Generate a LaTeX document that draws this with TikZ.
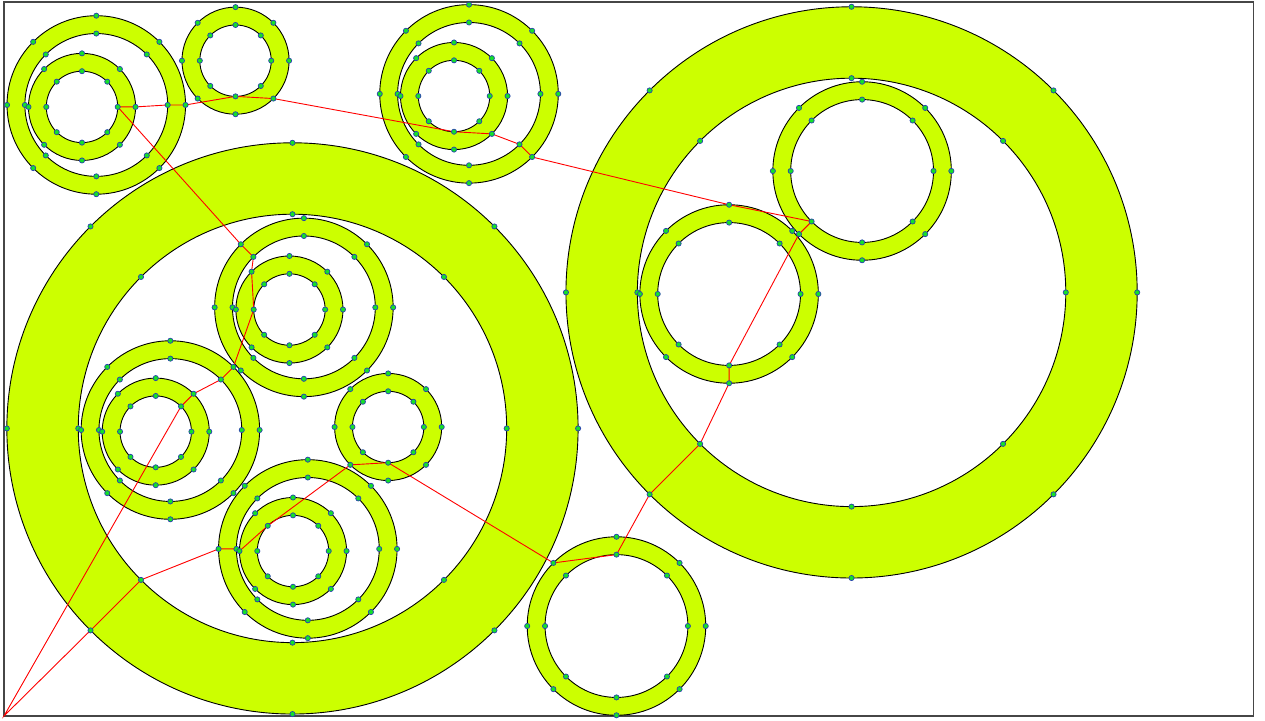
\documentclass[tikz,border=0pt]{standalone}
\usepackage{xcolor}
\usepackage{tikz}

\definecolor{ringlime}{RGB}{204,255,0}
\definecolor{dotgreen}{RGB}{20,225,40}
\definecolor{dotblue}{RGB}{40,65,175}
\definecolor{framegray}{RGB}{70,70,70}

\tikzset{
    ring/.style={draw=black, line width=0.9pt, fill=ringlime, even odd rule},
    tour/.style={draw=red, line width=0.9pt},
    sitedot/.style={fill=dotgreen, draw=dotblue, line width=0.7pt},
    frame/.style={draw=framegray, line width=1.3pt}
}

\begin{document}
\begin{tikzpicture}[x=17.85pt, y=17.85pt]
    \useasboundingbox (-0.224,-0.224) rectangle (70.64,40.11);
    % Khung
    \draw[frame] (0,0) rectangle (70,40);
    \coordinate (corner) at (0,0);

    % Các vành khuyên và các điểm trên mỗi đường tròn
    \foreach \n/\x/\y/\ro/\ri in {
        bigL/16.16/16.11/16/12, bigR/47.48/23.73/16/12,
        nwB/5.17/34.23/5/4, nwC/4.37/34.12/3/2,
        topC/12.97/36.71/3/2,
        midB/26.05/34.85/5/4, midC/25.21/34.73/3/2,
        upB/16.80/22.89/5/4, upC/15.99/22.77/3/2,
        lfB/9.32/16.02/5/4, lfC/8.50/15.93/3/2,
        rtC/21.52/16.19/3/2,
        dnB/17.02/9.36/5/4, dnC/16.19/9.24/3/2,
        hiB/48.07/30.53/5/4, loB/40.62/23.64/5/4,
        botB/34.31/5.04/5/4}
    {
        \draw[ring] (\x,\y) circle (\ro) (\x,\y) circle (\ri);
        \foreach \k in {0,...,7} {
            \path (\x,\y) ++(\k*45:\ro) coordinate (\n-o-\k);
            \path (\x,\y) ++(\k*45:\ri) coordinate (\n-i-\k);
        }
    }

    % Đường đi màu đỏ
    \draw[tour] (corner) -- (lfC-i-1) -- (lfC-o-1) -- (lfB-i-1) -- (lfB-o-1)
        -- (upC-i-4) -- (upC-o-3) -- (upB-i-3) -- (upB-o-3)
        -- (nwC-i-0) -- (nwC-o-0) -- (nwB-i-0) -- (nwB-o-0)
        -- (topC-i-6) -- (topC-o-7)
        -- (midC-i-6) -- (midC-o-7) -- (midB-i-7) -- (midB-o-7)
        -- (loB-o-2) -- (hiB-i-5) -- (hiB-o-5) -- (loB-i-6) -- (loB-o-6)
        -- (bigR-i-5) -- (bigR-o-5) -- (botB-i-2) -- (botB-o-3)
        -- (rtC-i-6) -- (rtC-o-5) -- (dnC-i-3) -- (dnC-o-4) -- (dnB-i-4) -- (dnB-o-4)
        -- (bigL-i-5) -- (bigL-o-5) -- cycle;

    % Đánh dấu các điểm
    \foreach \n in {bigL,bigR,nwB,nwC,topC,midB,midC,upB,upC,lfB,lfC,rtC,dnB,dnC,hiB,loB,botB}
        \foreach \k in {0,...,7}
            \filldraw[sitedot] (\n-o-\k) circle (2.6pt) (\n-i-\k) circle (2.6pt);
\end{tikzpicture}
\end{document}
